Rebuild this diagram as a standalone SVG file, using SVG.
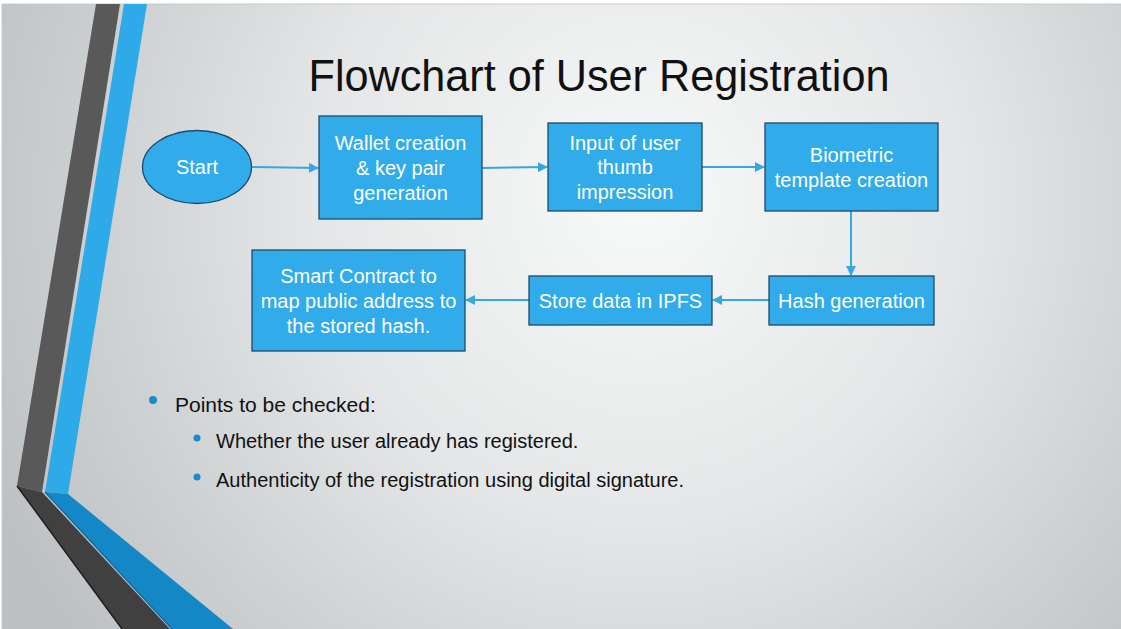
<svg xmlns="http://www.w3.org/2000/svg" width="1121" height="629" viewBox="0 0 1121 629">
  <defs>
    <radialGradient id="slideBg" gradientUnits="userSpaceOnUse" cx="640" cy="200" r="720" fx="640" fy="200">
      <stop offset="0" stop-color="#f8f9f9"/>
      <stop offset="0.45" stop-color="#e4e6e7"/>
      <stop offset="1" stop-color="#bcc0c2"/>
    </radialGradient>
    <marker id="arrow" viewBox="0 0 10 10" refX="9" refY="5" markerWidth="5" markerHeight="5" orient="auto" markerUnits="strokeWidth">
      <path d="M0,0 L10,5 L0,10 Z" fill="#35a8e4"/>
    </marker>
    <style>
      .box { fill: #31abe9; stroke: #1d4a6e; stroke-width: 1.3; }
      .label { font-family: "Liberation Sans", Arial, sans-serif; font-size: 20px; fill: #ffffff; text-anchor: middle; }
      .link { stroke: #35a8e4; stroke-width: 2; fill: none; marker-end: url(#arrow); }
      .body { font-family: "Liberation Sans", Arial, sans-serif; fill: #111111; }
      .dot { fill: #1b8acb; }
    </style>
  </defs>

  <!-- page and slide background -->
  <rect x="0" y="0" width="1121" height="629" fill="#ffffff"/>
  <rect x="2" y="4" width="1121" height="630" fill="url(#slideBg)" stroke="#c9c9c9" stroke-width="1"/>

  <!-- decorative bent bands on the left -->
  <g id="decor">
    <polygon points="96,4 120,4 42,492 17,486" fill="#595959"/>
    <polygon points="124,4 147,4 68,494 45,492" fill="#2faae9"/>
    <polygon points="17,486 42,492 170,629 122,629" fill="#404040"/>
    <polyline points="17,486 122,629" fill="none" stroke="#1e1e1e" stroke-width="1.5"/>
    <polygon points="45,492 68,494 233,629 172,629" fill="#1488c6"/>
    <polyline points="45,492 172,629" fill="none" stroke="#0f6ea3" stroke-width="1.5"/>
  </g>

  <!-- title -->
  <text x="599" y="91" font-family="'Liberation Sans', Arial, sans-serif" font-size="45" fill="#111111" text-anchor="middle" textLength="581" lengthAdjust="spacingAndGlyphs">Flowchart of User Registration</text>

  <!-- connectors -->
  <g id="connectors">
    <line class="link" x1="252" y1="167" x2="318" y2="168"/>
    <line class="link" x1="482" y1="168" x2="547" y2="167"/>
    <line class="link" x1="702" y1="167" x2="764" y2="167"/>
    <line class="link" x1="851" y1="211" x2="851" y2="275"/>
    <line class="link" x1="769" y1="300" x2="713" y2="300"/>
    <line class="link" x1="529" y1="300" x2="466" y2="300"/>
  </g>

  <!-- nodes -->
  <g id="start">
    <ellipse class="box" cx="197" cy="167" rx="54.5" ry="36.5"/>
    <text class="label" x="197" y="174">Start</text>
  </g>
  <g id="wallet">
    <rect class="box" x="319" y="116" width="163" height="103"/>
    <text class="label" x="400.5" y="150">Wallet creation</text>
    <text class="label" x="400.5" y="175">&amp; key pair</text>
    <text class="label" x="400.5" y="200">generation</text>
  </g>
  <g id="thumb">
    <rect class="box" x="548" y="123" width="154" height="88"/>
    <text class="label" x="625" y="150">Input of user</text>
    <text class="label" x="625" y="174">thumb</text>
    <text class="label" x="625" y="199">impression</text>
  </g>
  <g id="template">
    <rect class="box" x="765" y="123" width="173" height="88"/>
    <text class="label" x="851.5" y="162">Biometric</text>
    <text class="label" x="851.5" y="187">template creation</text>
  </g>
  <g id="hash">
    <rect class="box" x="769" y="276" width="165" height="49"/>
    <text class="label" x="851.5" y="308">Hash generation</text>
  </g>
  <g id="ipfs">
    <rect class="box" x="529" y="276" width="183" height="49"/>
    <text class="label" x="620.5" y="308">Store data in IPFS</text>
  </g>
  <g id="contract">
    <rect class="box" x="252" y="250" width="213" height="101"/>
    <text class="label" x="358.5" y="283">Smart Contract to</text>
    <text class="label" x="358.5" y="308">map public address to</text>
    <text class="label" x="358.5" y="333">the stored hash.</text>
  </g>

  <!-- bullet list -->
  <g id="notes">
    <circle class="dot" cx="153" cy="400" r="4"/>
    <text class="body" x="175" y="412" font-size="21">Points to be checked:</text>
    <circle class="dot" cx="197" cy="438" r="3.5"/>
    <text class="body" x="216" y="448" font-size="20">Whether the user already has registered.</text>
    <circle class="dot" cx="197" cy="477" r="3.5"/>
    <text class="body" x="216" y="487" font-size="20">Authenticity of the registration using digital signature.</text>
  </g>
</svg>
